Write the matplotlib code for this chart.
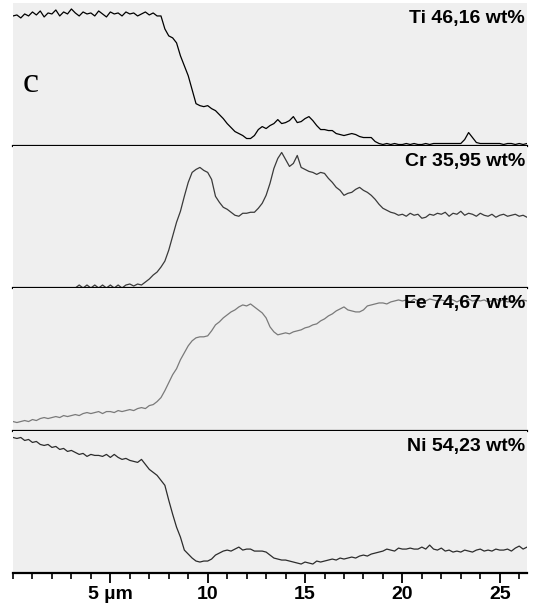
import numpy as np
import matplotlib
matplotlib.use("Agg")
import matplotlib.pyplot as plt
from matplotlib.ticker import MultipleLocator

# posiciones del barrido lineal (um), un punto cada 0.2 um
distancia = np.round(np.arange(0, 26.5, 0.2), 1)

# intensidades (altura sobre la linea base de cada panel)
ti = [130, 131, 128, 132, 130, 134, 131, 135, 129, 133,
      132, 136, 130, 134, 132, 137, 133, 130, 134, 132,
      133, 130, 135, 132, 129, 134, 132, 133, 130, 134,
      132, 133, 130, 132, 134, 131, 133, 130, 130, 117,
      110, 108, 103, 90, 80, 70, 56, 42, 40, 39,
      40, 37, 35, 31, 27, 22, 18, 14, 12, 10,
      7, 7, 10, 16, 19, 17, 20, 22, 26, 22,
      23, 25, 29, 23, 24, 27, 29, 25, 20, 16,
      16, 15, 15, 12, 11, 10, 11, 12, 11, 9,
      8, 8, 8, 4, 2, 1, 2, 1, 2, 1,
      1, 2, 1, 2, 1, 1, 2, 1, 2, 2,
      2, 2, 2, 2, 2, 2, 6, 13, 8, 3,
      2, 2, 2, 2, 2, 2, 1, 2, 2, 1,
      2, 1, 2]

cr = [0, 0, 0, 0, 0, 0, 0, 0, 0, 0,
      0, 0, 0, 0, 0, 0, 0, 3, 0, 3,
      0, 3, 0, 3, 0, 3, 0, 3, 0, 3,
      4, 2, 4, 3, 6, 9, 13, 16, 21, 27,
      38, 52, 66, 77, 92, 106, 116, 119, 121, 118,
      116, 109, 92, 86, 81, 79, 76, 73, 72, 75,
      75, 76, 76, 80, 85, 93, 105, 120, 130, 136,
      129, 122, 125, 133, 121, 119, 117, 116, 114, 116,
      115, 110, 106, 101, 98, 93, 95, 96, 99, 101,
      98, 96, 93, 89, 84, 80, 78, 76, 75, 73,
      74, 72, 75, 73, 74, 70, 71, 74, 73, 75,
      74, 76, 72, 75, 74, 77, 73, 75, 74, 72,
      75, 73, 72, 74, 71, 73, 74, 72, 73, 74,
      72, 73, 71]

fe = [9, 8, 9, 10, 9, 11, 10, 12, 13, 12,
      13, 14, 13, 15, 14, 15, 16, 15, 17, 18,
      17, 18, 19, 17, 19, 19, 18, 20, 19, 20,
      21, 20, 22, 23, 22, 25, 26, 29, 33, 40,
      48, 56, 62, 71, 78, 85, 90, 93, 94, 94,
      95, 100, 106, 109, 113, 116, 119, 121, 124, 126,
      125, 127, 124, 121, 118, 113, 104, 99, 96, 97,
      98, 97, 99, 100, 101, 103, 104, 106, 107, 110,
      112, 115, 117, 120, 122, 124, 121, 120, 119, 119,
      121, 125, 126, 127, 128, 128, 127, 129, 130, 131,
      130, 131, 129, 132, 130, 131, 130, 132, 131, 130,
      131, 130, 132, 131, 129, 131, 130, 132, 130, 131,
      130, 131, 129, 130, 132, 130, 131, 129, 130, 131,
      130, 131, 130]

ni = [136, 135, 136, 133, 134, 131, 132, 129, 128, 129,
      126, 127, 124, 125, 122, 123, 121, 119, 120, 117,
      119, 118, 118, 117, 119, 116, 119, 116, 114, 115,
      113, 112, 111, 114, 109, 104, 101, 98, 93, 88,
      73, 59, 46, 36, 23, 19, 15, 12, 11, 12,
      12, 14, 18, 20, 22, 23, 22, 24, 26, 23,
      24, 24, 22, 22, 22, 21, 18, 15, 14, 13,
      13, 12, 11, 10, 9, 11, 10, 9, 12, 11,
      12, 13, 14, 13, 15, 14, 15, 16, 15, 17,
      18, 17, 19, 20, 21, 22, 24, 23, 22, 25,
      24, 24, 25, 24, 24, 26, 24, 28, 24, 23,
      25, 22, 23, 21, 22, 21, 23, 22, 21, 23,
      24, 22, 23, 22, 24, 23, 23, 24, 22, 25,
      27, 24, 26]

series = [ti, cr, fe, ni]
etiquetas = ["Ti 46,16 wt%", "Cr 35,95 wt%", "Fe 74,67 wt%", "Ni 54,23 wt%"]
colores = ["#000000", "#3a3a3a", "#7a7a7a", "#2c2c2c"]

ticks_mayores = [5, 10, 15, 20, 25]
ticks_texto = ["5 \u00b5m", "10", "15", "20", "25"]

fuente = ["Liberation Sans Narrow", "Liberation Sans", "DejaVu Sans"]

fig = plt.figure(figsize=(5.38, 6.03), dpi=100)
gs = fig.add_gridspec(4, 1, left=13/538, right=527/538, bottom=30/603,
                      top=600/603, hspace=0)

for i in range(4):
    ax = fig.add_subplot(gs[i])
    ax.set_facecolor("#efefef")
    ax.plot(distancia, series[i], color=colores[i], linewidth=0.9)
    ax.set_xlim(0, 26.4)
    ax.set_ylim(0, 143)
    ax.set_yticks([])
    for lado in ["top", "left", "right"]:
        ax.spines[lado].set_visible(False)
    ax.spines["bottom"].set_linewidth(1.6)
    ax.spines["bottom"].set_color("black")
    ax.text(0.996, 0.95, etiquetas[i], transform=ax.transAxes, ha="right",
            va="top", fontsize=14, fontweight="bold", family=fuente, zorder=5)
    if i == 0:
        ax.text(0.9, 62, "c", ha="center", va="center", fontsize=26,
                family=["Liberation Serif", "DejaVu Serif"])
    if i < 3:
        ax.tick_params(bottom=False, labelbottom=False)
    else:
        # eje inferior con ticks cada 1 um
        ax.set_xticks(ticks_mayores)
        ax.set_xticklabels(ticks_texto, fontsize=14, fontweight="bold",
                           family=fuente)
        ax.xaxis.set_minor_locator(MultipleLocator(1))
        ax.tick_params(which="major", direction="out", length=7.5, width=1.3,
                       pad=2)
        ax.tick_params(which="minor", direction="out", length=4.5, width=1.2)

fig.savefig("out.png", dpi=100)
